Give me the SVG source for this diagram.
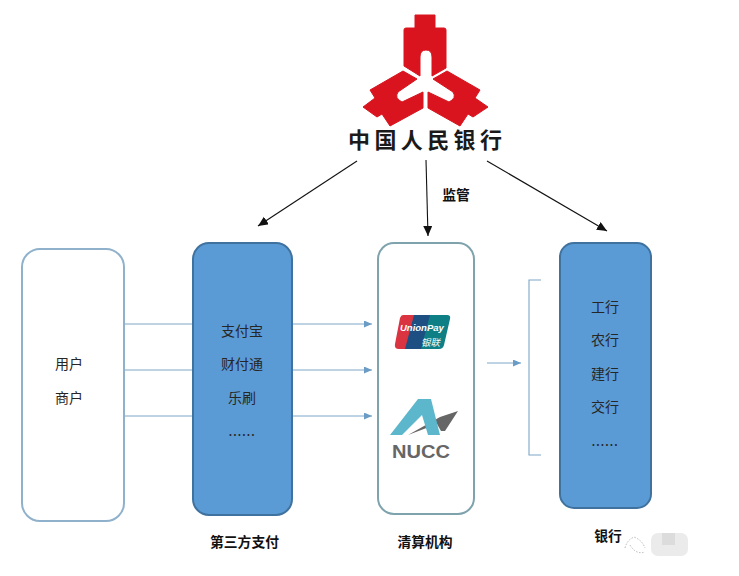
<svg xmlns="http://www.w3.org/2000/svg" width="739" height="576" viewBox="0 0 739 576">
<style>
text{font-family:"Noto Sans CJK SC","Liberation Sans",sans-serif;fill:#262626}
.t{font-size:14px;text-anchor:middle}
.b{font-size:13.8px;font-weight:700;text-anchor:middle;fill:#111}
.blue{fill:#5b9bd5;stroke:#3f729f;stroke-width:2}
.white{fill:#fff;stroke:#8fb1cc;stroke-width:2}
.k{stroke:#111;stroke-width:1.1;fill:none;marker-end:url(#ka)}
.a{stroke:#7da7c9;stroke-width:1;fill:none;marker-end:url(#ba)}
.red{fill:#d9141e;stroke:#d9141e;stroke-width:1;stroke-linejoin:round}
</style>
<defs>
<marker id="ka" markerUnits="userSpaceOnUse" markerWidth="12" markerHeight="10" refX="10" refY="4.5" orient="auto"><path d="M0 0L10 4.5L0 9Z" fill="#111"/></marker>
<marker id="ba" markerUnits="userSpaceOnUse" markerWidth="10" markerHeight="8" refX="8" refY="3.5" orient="auto"><path d="M0 0L8 3.5L0 7Z" fill="#6a9cc6"/></marker>
</defs>
<rect width="739" height="576" fill="#fff"/>
<g id="pboc-logo">
<path class="red" d="M415 15H435V28H444Q446 28 446 30V68L432 76V57Q432 50 426 50Q420 50 420 57V76L404 66V30Q404 28 406 28H415Z"/>
<path class="red" d="M403 71L417 79L398 92Q394 98 402 102L423 92V108L390 126L382 114L377 117L363 107L375 98L370 90Z"/>
<path class="red" d="M447 71L433 79L453 92Q457 98 449 102L428 92V108L460 126L468 114L473 117L488 107L475 98L480 90Z"/>
<text x="348" y="148" style="font-family:'Noto Sans CJK SC',sans-serif;font-size:22px;font-weight:700;letter-spacing:4.4px;fill:#1a1a1a">中国人民银行</text>
</g>
<g id="connectors">
<path class="k" d="M357 161L258 226"/>
<path class="k" d="M426 160L428 236"/>
<path class="k" d="M487 161L607 231"/>
<path class="a" d="M124 324H372"/>
<path class="a" d="M124 370H372"/>
<path class="a" d="M124 416H372"/>
<path class="a" d="M487 363H521"/>
<path d="M541 280H529V455H541" fill="none" stroke="#7da7c9" stroke-width="1.1"/>
</g>
<g id="node-users">
<rect class="white" x="22" y="249" width="102" height="272" rx="18"/>
<text class="t" x="69" y="369">用户</text>
<text class="t" x="69" y="403">商户</text>
</g>
<g id="node-third-party">
<rect class="blue" x="193" y="243" width="99" height="272" rx="16"/>
<text class="t" x="242" y="336">支付宝</text>
<text class="t" x="242" y="369">财付通</text>
<text class="t" x="242" y="403">乐刷</text>
<text class="t" x="242" y="436" style="letter-spacing:.6px">......</text>
</g>
<g id="node-clearing">
<rect class="white" x="378" y="243" width="96" height="271" rx="16" style="stroke:#7fa3ad"/>
<path d="M403 315H420L411 349H399Q394 349 395 344L400 318Q401 315 403 315Z" fill="#d9343f"/>
<path d="M414 315H436L427 349H405Z" fill="#1d4f82"/>
<path d="M430 315H447Q451 315 450 319L444 345Q443 349 439 349H421Z" fill="#0f7f86"/>
<text x="400" y="331" style="font-family:'Liberation Sans',sans-serif;font-size:9.5px;font-weight:700;font-style:italic;fill:#fff">UnionPay</text>
<text x="421" y="346" style="font-size:9.5px;font-style:italic;fill:#fff">银联</text>
<path d="M408 435L440 417L458 411L445 431H441L437 424Z" fill="#666"/>
<path d="M418 399H431L440 435H428L422 415L402 435H390Z" fill="#5cb7cc"/>
<text x="392" y="458" textLength="58" lengthAdjust="spacingAndGlyphs" style="font-family:'Liberation Sans',sans-serif;font-size:18px;font-weight:700;fill:#666">NUCC</text>
</g>
<g id="node-banks">
<rect class="blue" x="560" y="243" width="91" height="265" rx="14"/>
<text class="t" x="605" y="312">工行</text>
<text class="t" x="605" y="345">农行</text>
<text class="t" x="605" y="379">建行</text>
<text class="t" x="605" y="412">交行</text>
<text class="t" x="605" y="446" style="letter-spacing:.6px">......</text>
</g>
<g id="labels">
<text class="b" x="456" y="200">监管</text>
<text class="b" x="244.500" y="547">第三方支付</text>
<text class="b" x="425" y="547">清算机构</text>
<text class="b" x="608" y="541">银行</text>
</g>
<g id="watermark">
<path d="M625 548Q627 540 634 537Q642 540 645 548M630 545Q636 555 645 552" fill="none" stroke="#999" stroke-width=".7" stroke-dasharray="1.500 1.500"/>
<rect x="651" y="533" width="37" height="23" rx="7" fill="#ebebeb"/>
<rect x="662" y="533" width="13" height="12" fill="#dcdcdc"/>
</g>
</svg>
